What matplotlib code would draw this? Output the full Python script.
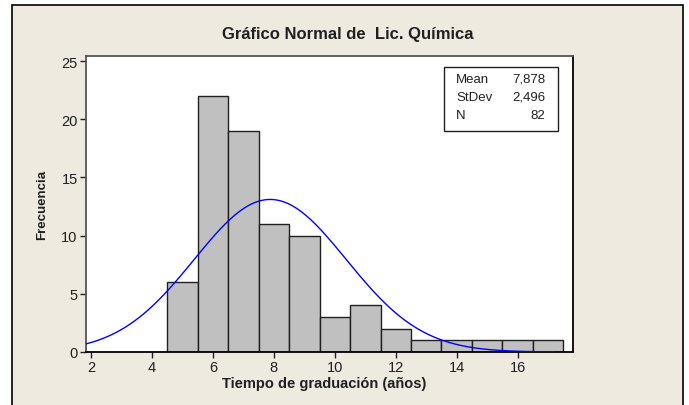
import numpy as np
import matplotlib
matplotlib.use('Agg')
import matplotlib.pyplot as plt
from matplotlib.patches import Rectangle

plt.rcParams['font.family'] = ['Liberation Sans', 'DejaVu Sans']

# datos del histograma
bin_centers = [5, 6, 7, 8, 9, 10, 11, 12, 13, 14, 15, 16, 17]
counts = [6, 22, 19, 11, 10, 3, 4, 2, 1, 1, 1, 1, 1]
bin_width = 1.0
mean = 7.878
stdev = 2.496
n = 82
stat_labels = ['Mean', 'StDev', 'N']
stat_values = ['7,878', '2,496', '82']
x_ticks = [2, 4, 6, 8, 10, 12, 14, 16]
y_ticks = [0, 5, 10, 15, 20, 25]

W, H = 689, 406
fig = plt.figure(figsize=(W / 100, H / 100), dpi=100, facecolor='white')

# marco beige
fig.patches.append(Rectangle((12 / W, -0.02), (683 - 12) / W, (H - 6) / H + 0.02,
                             transform=fig.transFigure, facecolor='#EEEAE0',
                             edgecolor='black', linewidth=1.2, zorder=-10))

ax = fig.add_axes([86 / W, (H - 353) / H, (573 - 86) / W, (353 - 57) / H])
ax.set_facecolor('white')

ax.bar(bin_centers, counts, width=bin_width, color='#C0C0C0',
       edgecolor='#202020', linewidth=1.0, zorder=2)

xs = np.linspace(1.83, 17.2, 300)
ys = n * bin_width / (stdev * np.sqrt(2 * np.pi)) * np.exp(-0.5 * ((xs - mean) / stdev) ** 2)
ax.plot(xs, ys, color='#0000FF', linewidth=1.0, zorder=3)

ax.set_xlim(1.83, 17.82)
ax.set_ylim(0, 25.43)
ax.set_xticks(x_ticks)
ax.set_yticks(y_ticks)
ax.tick_params(direction='out', length=4, width=1, labelsize=10.5,
               colors='#202020', pad=2)
for side in ['left', 'top']:
    ax.spines[side].set_color('#555555')
for side in ['bottom', 'right']:
    ax.spines[side].set_color('black')
for s in ax.spines.values():
    s.set_linewidth(1.3)

# caja de estadisticas
box = Rectangle((444 / W, 1 - 132 / H), 114 / W, 64 / H, transform=fig.transFigure,
                facecolor='white', edgecolor='#202020', linewidth=1.0, zorder=10)
fig.patches.append(box)
for i, (lab, val) in enumerate(zip(stat_labels, stat_values)):
    y = H - (80 + i * 18)
    fig.text(456 / W, y / H, lab, fontsize=9.5, va='center', ha='left', color='#202020', zorder=11)
    fig.text(545 / W, y / H, val, fontsize=9.5, va='center', ha='right', color='#202020', zorder=11)

fig.text(348 / W, 1 - 35 / H, 'Gráfico Normal de  Lic. Química', ha='center', va='center',
         fontsize=12, fontweight='bold', color='#202020')
fig.text(324 / W, 1 - 384 / H, 'Tiempo de graduación (años)', ha='center', va='center',
         fontsize=10.5, fontweight='bold', color='#202020')
fig.text(42 / W, 1 - 205 / H, 'Frecuencia', ha='center', va='center', rotation=90,
         fontsize=9.5, fontweight='bold', color='#202020')

fig.savefig('out.png', dpi=100, facecolor='white')
